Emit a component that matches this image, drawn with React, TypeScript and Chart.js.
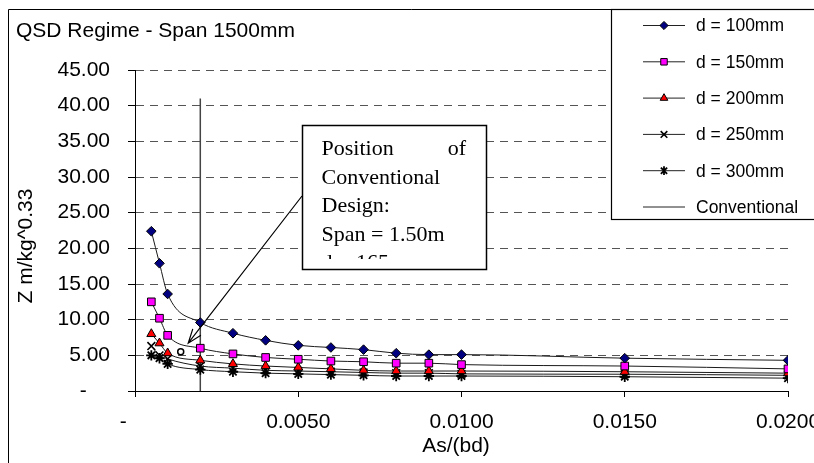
import React, { useEffect, useRef } from 'react';
import { Chart, registerables } from 'chart.js';

Chart.register(...registerables);

// ---- data ----
const ratios = [0.0005, 0.00075, 0.001, 0.002, 0.003, 0.004, 0.005, 0.006, 0.007, 0.008, 0.009, 0.010, 0.015, 0.020];
const zD100 = [22.4, 17.9, 13.6, 9.6, 8.1, 7.1, 6.4, 6.1, 5.8, 5.3, 5.1, 5.1, 4.6, 4.3];
const zD150 = [12.5, 10.2, 7.8, 6.0, 5.2, 4.7, 4.45, 4.2, 4.1, 3.9, 3.9, 3.7, 3.5, 3.1];
const zD200 = [8.0, 6.7, 5.3, 4.3, 3.8, 3.5, 3.3, 3.1, 2.9, 2.8, 2.8, 2.8, 2.7, 2.5];
const zD250 = [6.3, 5.0, 4.5, 3.5, 3.2, 2.9, 2.8, 2.7, 2.6, 2.5, 2.5, 2.4, 2.35, 2.2];
const zD300 = [5.0, 4.6, 3.8, 3.0, 2.7, 2.5, 2.4, 2.3, 2.2, 2.1, 2.1, 2.1, 2.0, 1.8];
const convX = [0.002, 0.002];
const convY = [0, 41];
const designX = [0.0014];
const designY = [5.5];
const arrowTip = { x: 0.00163, y: 6.7 };

const seriesLabels = ['d = 100mm', 'd = 150mm', 'd = 200mm', 'd = 250mm', 'd = 300mm', 'Conventional'];
const yTicks = { min: 0, max: 45, step: 5 };
const xTicks = { min: 0, max: 0.02, step: 0.005 };
const titleText = 'QSD Regime - Span 1500mm';
const yTitle = 'Z m/kg^0.33';
const xTitle = 'As/(bd)';
const noteLines = ['Conventional', 'Design:', 'Span = 1.50m', 'd = 165mm'];

const SANS = '"Liberation Sans", Arial, sans-serif';
const SERIF = '"Liberation Serif", "Times New Roman", serif';

type Style = 'rectRot' | 'rect' | 'triangle' | 'crossRot' | 'star' | 'none';
const styles: Style[] = ['rectRot', 'rect', 'triangle', 'crossRot', 'star', 'none'];
const fills = ['#000080', '#FF00FF', '#FF0000', '#000000', '#000000', '#000000'];
const radii = [4.8, 5.4, 5.2, 5.5, 5.2];
const markerWidths = [1, 1, 1, 1.6, 1.8];

function pts(xs: number[], ys: number[]) {
  return xs.map((x, i) => ({ x, y: ys[i] }));
}

function drawMarker(ctx: CanvasRenderingContext2D, style: Style, x: number, y: number, r: number, fill: string, lw: number) {
  ctx.save();
  ctx.lineWidth = lw;
  ctx.strokeStyle = '#000';
  ctx.fillStyle = fill;
  ctx.beginPath();
  if (style === 'rectRot') {
    ctx.moveTo(x, y - r); ctx.lineTo(x + r, y); ctx.lineTo(x, y + r); ctx.lineTo(x - r, y); ctx.closePath();
    ctx.fill(); ctx.stroke();
  } else if (style === 'rect') {
    const s = r * Math.SQRT1_2;
    ctx.rect(x - s, y - s, 2 * s, 2 * s); ctx.fill(); ctx.stroke();
  } else if (style === 'triangle') {
    ctx.moveTo(x, y - r); ctx.lineTo(x + r * 0.866, y + r * 0.5); ctx.lineTo(x - r * 0.866, y + r * 0.5); ctx.closePath();
    ctx.fill(); ctx.stroke();
  } else if (style === 'crossRot') {
    const s = r * Math.SQRT1_2;
    ctx.moveTo(x - s, y - s); ctx.lineTo(x + s, y + s); ctx.moveTo(x + s, y - s); ctx.lineTo(x - s, y + s); ctx.stroke();
  } else if (style === 'star') {
    const s = r * Math.SQRT1_2;
    ctx.moveTo(x - s, y - s); ctx.lineTo(x + s, y + s); ctx.moveTo(x + s, y - s); ctx.lineTo(x - s, y + s);
    ctx.moveTo(x, y - r); ctx.lineTo(x, y + r); ctx.stroke();
  }
  ctx.restore();
}

const overlay = {
  id: 'overlay',
  afterDraw(chart: any) {
    const ctx: CanvasRenderingContext2D = chart.ctx;
    const xs = chart.scales.x;
    const ys = chart.scales.y;
    ctx.save();

    // outer frame
    ctx.strokeStyle = '#000';
    ctx.lineWidth = 1;
    ctx.beginPath();
    ctx.moveTo(8.5, 470); ctx.lineTo(8.5, 9.5); ctx.lineTo(820, 9.5);
    ctx.stroke();

    // chart title
    ctx.fillStyle = '#000';
    ctx.font = `21px ${SANS}`;
    ctx.textAlign = 'left';
    ctx.textBaseline = 'alphabetic';
    ctx.fillText(titleText, 16, 37);

    // axis titles
    ctx.font = `21px ${SANS}`;
    ctx.textAlign = 'center';
    ctx.fillText(xTitle, 456, 452);
    ctx.save();
    ctx.translate(32, 246);
    ctx.rotate(-Math.PI / 2);
    ctx.textBaseline = 'alphabetic';
    ctx.fillText(yTitle, 0, 0);
    ctx.restore();

    // arrow
    const bx = 302, by = 125, bw = 184, bh = 144;
    const sx = bx, sy = 196;
    const tx = xs.getPixelForValue(arrowTip.x);
    const ty = ys.getPixelForValue(arrowTip.y);
    ctx.strokeStyle = '#000';
    ctx.lineWidth = 1.2;
    ctx.beginPath();
    ctx.moveTo(sx, sy); ctx.lineTo(tx, ty);
    const ang = Math.atan2(sy - ty, sx - tx);
    const al = 15, aa = (20 * Math.PI) / 180;
    ctx.moveTo(tx + al * Math.cos(ang - aa), ty + al * Math.sin(ang - aa));
    ctx.lineTo(tx, ty);
    ctx.lineTo(tx + al * Math.cos(ang + aa), ty + al * Math.sin(ang + aa));
    ctx.stroke();

    // annotation box
    ctx.fillStyle = '#fff';
    ctx.fillRect(bx, by, bw, bh);
    ctx.lineWidth = 1.5;
    ctx.strokeRect(bx + 0.5, by + 0.5, bw, bh);
    ctx.save();
    ctx.beginPath();
    ctx.rect(bx + 2, by + 2, bw - 4, 259 - by - 2);
    ctx.clip();
    ctx.fillStyle = '#000';
    ctx.font = `22px ${SERIF}`;
    ctx.textBaseline = 'alphabetic';
    ctx.textAlign = 'left';
    ctx.fillText('Position', 321.5, 155);
    ctx.textAlign = 'right';
    ctx.fillText('of', 466, 155);
    ctx.textAlign = 'left';
    noteLines.forEach((t, i) => ctx.fillText(t, 321.5, 183.5 + i * 28.5));
    ctx.restore();

    // legend
    ctx.fillStyle = '#fff';
    ctx.fillRect(611, 9, 210, 210);
    ctx.strokeStyle = '#000';
    ctx.lineWidth = 1.2;
    ctx.strokeRect(611.5, 9.5, 220, 210);
    ctx.font = `17.5px ${SANS}`;
    ctx.textAlign = 'left';
    ctx.textBaseline = 'middle';
    seriesLabels.forEach((lab, i) => {
      const yy = 25.5 + i * 36.3;
      ctx.strokeStyle = '#222';
      ctx.lineWidth = 1;
      ctx.beginPath();
      ctx.moveTo(643, yy); ctx.lineTo(685, yy);
      ctx.stroke();
      if (styles[i] !== 'none') drawMarker(ctx, styles[i], 664, yy, radii[i] * 0.85, fills[i], markerWidths[i]);
      ctx.fillStyle = '#000';
      ctx.fillText(lab, 696, yy + 1);
    });

    ctx.restore();
  },
};

export default function App() {
  const ref = useRef<HTMLCanvasElement | null>(null);
  useEffect(() => {
    if (!ref.current) return;
    const series = [zD100, zD150, zD200, zD250, zD300];
    const datasets: any[] = series.map((ys, i) => ({
      label: seriesLabels[i],
      data: pts(ratios, ys),
      borderColor: '#1a1a1a',
      borderWidth: 1,
      backgroundColor: fills[i],
      pointStyle: styles[i],
      pointRadius: radii[i],
      pointBackgroundColor: fills[i],
      pointBorderColor: '#000',
      pointBorderWidth: markerWidths[i],
      cubicInterpolationMode: 'monotone',
      fill: false,
    }));
    datasets.push({
      label: seriesLabels[5],
      data: pts(convX, convY),
      borderColor: '#444',
      borderWidth: 1.5,
      pointRadius: 0,
      fill: false,
    });
    datasets.push({
      label: 'design point',
      data: pts(designX, designY),
      showLine: false,
      pointStyle: 'circle',
      pointRadius: 3,
      pointBackgroundColor: '#fff',
      pointBorderColor: '#000',
      pointBorderWidth: 1.5,
    });

    const tickFont = { family: SANS, size: 21 };
    const zeroLabel = '-\u2007\u2007';

    const chart = new Chart(ref.current, {
      type: 'line',
      data: { datasets },
      plugins: [overlay],
      options: {
        animation: false,
        responsive: false,
        events: [],
        layout: { padding: { top: 70, right: 26, left: 0, bottom: 0 }, autoPadding: false } as any,
        plugins: { legend: { display: false }, tooltip: { enabled: false }, title: { display: false } },
        scales: {
          x: {
            type: 'linear',
            min: xTicks.min,
            max: xTicks.max,
            ticks: {
              stepSize: xTicks.step,
              autoSkip: false,
              maxRotation: 0,
              font: tickFont,
              color: '#000',
              padding: 13,
              callback: (v: any) => (Number(v) === 0 ? zeroLabel : Number(v).toFixed(4)),
            },
            grid: { drawOnChartArea: false, tickLength: 6, tickColor: '#000', tickWidth: 1, tickBorderDash: [] } as any,
            border: { color: '#000', width: 1 },
            afterFit: (s: any) => { s.height = 72; s.paddingLeft = 0; s.paddingRight = 0; },
          } as any,
          y: {
            type: 'linear',
            min: yTicks.min,
            max: yTicks.max,
            ticks: {
              stepSize: yTicks.step,
              font: tickFont,
              color: '#000',
              padding: 18,
              callback: (v: any) => (Number(v) === 0 ? zeroLabel : Number(v).toFixed(2)),
            },
            grid: {
              color: (c: any) => (c.tick && c.tick.value === 0 ? 'rgba(0,0,0,0)' : '#555'),
              lineWidth: 1,
              tickLength: 7,
              tickColor: '#000',
              tickWidth: 1,
              tickBorderDash: [],
            } as any,
            border: { color: '#000', width: 1, dash: [8, 6] } as any,
            afterFit: (s: any) => { s.width = 135; s.paddingTop = 0; s.paddingBottom = 0; },
          } as any,
        },
      } as any,
    });
    return () => chart.destroy();
  }, []);

  return (
    <div style={{ position: 'fixed', left: 0, top: 0, width: 814, height: 463, background: '#fff' }}>
      <canvas ref={ref} width={814} height={463} style={{ display: 'block' }} />
    </div>
  );
}
